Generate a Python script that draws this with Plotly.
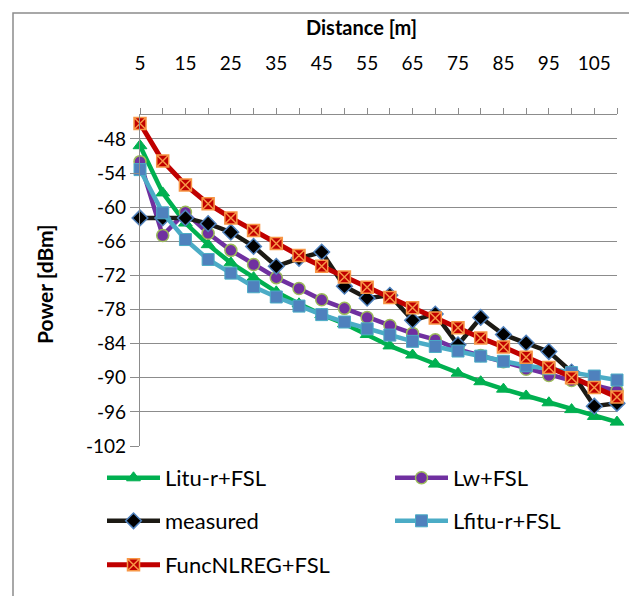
import plotly.graph_objects as go

# ---- data ----
distances = [5, 10, 15, 20, 25, 30, 35, 40, 45, 50, 55, 60, 65, 70, 75, 80, 85, 90, 95, 100, 105, 110]
x_tick_vals = [5, 15, 25, 35, 45, 55, 65, 75, 85, 95, 105]
x_tick_labels = ["5", "15", "25", "35", "45", "55", "65", "75", "85", "95", "105"]
y_tick_vals = [-102, -96, -90, -84, -78, -72, -66, -60, -54, -48]
y_tick_labels = ["-102", "-96", "-90", "-84", "-78", "-72", "-66", "-60", "-54", "-48"]

litu_r = [-49.2, -57.5, -62.8, -66.6, -69.8, -72.4, -74.9, -77.0, -78.9, -80.5, -82.4,
          -84.4, -86.0, -87.6, -89.2, -90.7, -92.0, -93.2, -94.4, -95.6, -96.8, -97.8]
lw = [-52.0, -65.0, -60.9, -64.6, -67.6, -70.1, -72.4, -74.3, -76.3, -77.8, -79.4,
      -80.8, -82.2, -83.3, -85.0, -86.1, -87.2, -88.5, -89.6, -90.5, -91.3, -92.3]
measured = [-61.9, -61.9, -61.9, -62.9, -64.4, -66.9, -70.4, -69.0, -67.9, -73.9, -76.0,
            -75.5, -79.9, -78.8, -84.2, -79.4, -82.4, -83.9, -85.4, -89.0, -95.0, -94.5]
lfitu_r = [-53.4, -61.0, -65.7, -69.2, -71.6, -74.0, -75.8, -77.4, -78.9, -80.2, -81.4,
           -82.5, -83.6, -84.5, -85.3, -86.2, -87.1, -87.9, -88.4, -89.1, -89.7, -90.4]
funcnlreg = [-45.3, -51.9, -56.1, -59.4, -61.9, -64.1, -66.4, -68.5, -70.4, -72.3, -74.1,
             -75.9, -77.7, -79.5, -81.2, -83.0, -84.6, -86.4, -88.2, -90.0, -91.7, -93.4]

FONT = "Lato, 'Open Sans', sans-serif"
GRID = "#8c8c8c"
LW = 4.5
TICK_SIZE = 19
TITLE_SIZE = 20
LEG_SIZE = 22

L, R, T, B = 132, 28, 107, 158
W, H = 637, 596
pw = W - L - R
ph = H - T - B


def px2x(px):
    return (px - L) / pw


def py2y(py):
    return (H - B - py) / ph


fig = go.Figure()

fig.add_trace(go.Scatter(
    x=distances, y=litu_r, name="Litu-r+FSL", mode="lines+markers",
    line=dict(color="#00B050", width=LW),
    marker=dict(symbol="triangle-up", size=12, color="#00B050", line=dict(color="#00B050", width=1)),
    cliponaxis=False, legend="legend"))
fig.add_trace(go.Scatter(
    x=distances, y=lw, name="Lw+FSL", mode="lines+markers",
    line=dict(color="#7030A0", width=LW),
    marker=dict(symbol="circle", size=12, color="#7030A0", line=dict(color="#9BBB59", width=1.5)),
    cliponaxis=False, legend="legend2"))
fig.add_trace(go.Scatter(
    x=distances, y=measured, name="measured", mode="lines+markers",
    line=dict(color="#1C1A14", width=LW),
    marker=dict(symbol="diamond", size=12, color="#000000", line=dict(color="#4F81BD", width=1.5)),
    cliponaxis=False, legend="legend3"))
fig.add_trace(go.Scatter(
    x=distances, y=lfitu_r, name="Lfitu-r+FSL", mode="lines+markers",
    line=dict(color="#4BACC6", width=LW),
    marker=dict(symbol="square", size=12, color="#4F81BD", line=dict(color="#4BACC6", width=1)),
    cliponaxis=False, legend="legend4"))
fig.add_trace(go.Scatter(
    x=distances, y=funcnlreg, name="FuncNLREG+FSL", mode="lines+markers",
    line=dict(color="#C00000", width=5),
    marker=dict(symbol="square-x", size=12, color="#C00000", line=dict(color="#F79646", width=1.5)),
    cliponaxis=False, legend="legend5"))

legend_common = dict(
    orientation="v", xanchor="left", yanchor="middle", itemwidth=53,
    font=dict(family=FONT, size=LEG_SIZE, color="#000"),
    bgcolor="rgba(0,0,0,0)",
)
col1, col2 = 94, 382
row1, row2, row3 = 470, 513, 557

fig.update_layout(
    width=W, height=H, autosize=False,
    margin=dict(l=L, r=R, t=T, b=B),
    paper_bgcolor="white", plot_bgcolor="white",
    font=dict(family=FONT, size=TICK_SIZE, color="#000"),
    showlegend=True,
    legend=dict(x=px2x(col1), y=py2y(row1), **legend_common),
    legend2=dict(x=px2x(col2), y=py2y(row1), **legend_common),
    legend3=dict(x=px2x(col1), y=py2y(row2), **legend_common),
    legend4=dict(x=px2x(col2), y=py2y(row2), **legend_common),
    legend5=dict(x=px2x(col1), y=py2y(row3), **legend_common),
    xaxis=dict(
        side="top", range=[5, 110], showgrid=False, zeroline=False,
        showline=True, linecolor=GRID, linewidth=1.3,
        tickmode="array", tickvals=x_tick_vals, ticktext=x_tick_labels,
        ticks="outside", ticklen=6, tickcolor=GRID, tickwidth=1.3,
        ticklabelstandoff=30,
        minor=dict(tickmode="array", tickvals=distances, ticks="outside", ticklen=6,
                   tickcolor=GRID, tickwidth=1.3),
        tickfont=dict(family=FONT, size=TICK_SIZE, color="#000"),
    ),
    yaxis=dict(
        range=[-102, -43.8], showgrid=True, gridcolor=GRID, gridwidth=1.3, zeroline=False,
        showline=True, linecolor=GRID, linewidth=1.3,
        tickmode="array", tickvals=y_tick_vals, ticktext=y_tick_labels,
        ticks="outside", ticklen=9, tickcolor=GRID, tickwidth=1.3,
        tickfont=dict(family=FONT, size=TICK_SIZE, color="#000"),
    ),
    annotations=[
        dict(text="<b>Distance [m]</b>", xref="paper", yref="paper",
             x=px2x(353), y=py2y(19), xanchor="center", yanchor="middle",
             showarrow=False, font=dict(family=FONT, size=TITLE_SIZE, color="#000")),
        dict(text="<b>Power [dBm]</b>", xref="paper", yref="paper", textangle=-90,
             x=px2x(36), y=py2y(276), xanchor="center", yanchor="middle",
             showarrow=False, font=dict(family=FONT, size=21, color="#000")),
    ],
    shapes=[dict(type="rect", xref="paper", yref="paper",
                 x0=px2x(5), x1=px2x(W + 10), y0=py2y(H + 10), y1=py2y(5),
                 line=dict(color="#8c8c8c", width=1.5), fillcolor="rgba(0,0,0,0)", layer="below")],
)

fig.write_html("out.html")
